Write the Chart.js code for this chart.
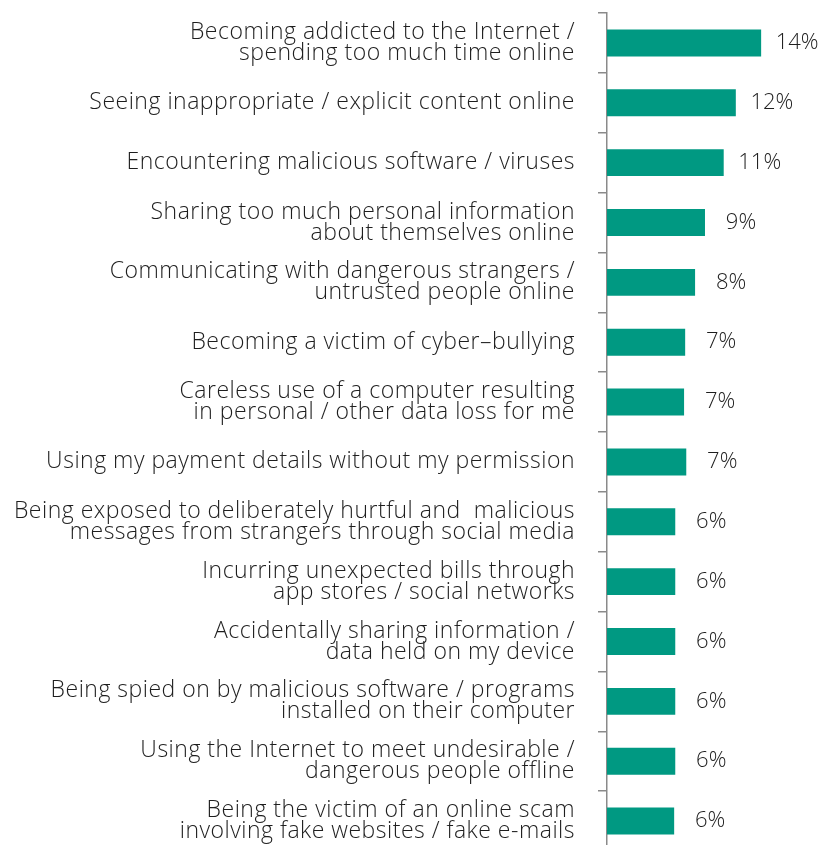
<!DOCTYPE html>
<html>
<head>
<meta charset="utf-8">
<script src="https://cdn.jsdelivr.net/npm/chart.js@4"></script>
<style>
  html, body { margin: 0; padding: 0; background: #ffffff; overflow: hidden; }
  #wrap { position: relative; width: 825px; height: 851px; }
</style>
</head>
<body>
<div id="wrap"><canvas id="chart"></canvas></div>
<script>
// Category labels (multi-line labels are arrays of lines)
const categories = [
  ["Becoming addicted to the Internet /", "spending too much time online"],
  "Seeing inappropriate / explicit content online",
  "Encountering malicious software / viruses",
  ["Sharing too much personal information", "about themselves online"],
  ["Communicating with dangerous strangers /", "untrusted people online"],
  "Becoming a victim of cyber\u2013bullying",
  ["Careless use of a computer resulting", "in personal / other data loss for me"],
  "Using my payment details without my permission",
  ["Being exposed to deliberately hurtful and  malicious", "messages from strangers through social media"],
  ["Incurring unexpected bills through", "app stores / social networks"],
  ["Accidentally sharing information /", "data held on my device"],
  ["Being spied on by malicious software / programs", "installed on their computer"],
  ["Using the Internet to meet undesirable /", "dangerous people offline"],
  ["Being the victim of an online scam", "involving fake websites / fake e-mails"]
];

// Share of respondents per concern, in percent
const shares = [14.0, 11.7, 10.6, 8.9, 8.0, 7.1, 7.0, 7.2, 6.2, 6.2, 6.2, 6.2, 6.2, 6.1];

const barColor = "#009982";
const axisColor = "#8a8a8a";
const textColor = "#1e1e1e";
const fontFamily = "'Open Sans', 'Noto Sans', sans-serif";

// Slightly wider tracking for the category labels
const tracking = {
  id: "tracking",
  beforeDraw(chart) {
    chart.ctx.letterSpacing = "0.5px";
  }
};

// Percentage labels to the right of each bar
const valueLabels = {
  id: "valueLabels",
  afterDatasetsDraw(chart) {
    const ctx = chart.ctx;
    const meta = chart.getDatasetMeta(0);
    ctx.save();
    ctx.letterSpacing = "0px";
    ctx.font = "300 22px " + fontFamily;
    ctx.fillStyle = textColor;
    ctx.textAlign = "center";
    ctx.textBaseline = "middle";
    meta.data.forEach((bar, i) => {
      const v = chart.data.datasets[0].data[i];
      ctx.fillText(Math.round(v) + "%", bar.x + 36, bar.y);
    });
    ctx.restore();
  }
};

new Chart(document.getElementById("chart"), {
  type: "bar",
  data: {
    labels: categories,
    datasets: [{
      data: shares,
      backgroundColor: barColor,
      borderWidth: 0,
      categoryPercentage: 1,
      barPercentage: 0.45
    }]
  },
  options: {
    indexAxis: "y",
    responsive: true,
    maintainAspectRatio: false,
    animation: false,
    layout: { padding: { top: 13, right: 0, bottom: 0, left: 0 } },
    plugins: {
      legend: { display: false },
      tooltip: { enabled: false }
    },
    scales: {
      x: {
        display: false,
        min: 0,
        max: 19.8
      },
      y: {
        afterFit(scale) {
          scale.width = 607;
          scale.paddingTop = 0;
          scale.paddingBottom = 0;
        },
        border: { display: true, color: axisColor, width: 1.5 },
        grid: {
          display: true,
          drawOnChartArea: false,
          drawTicks: true,
          tickLength: 9,
          color: axisColor,
          lineWidth: 1.5,
          offset: true
        },
        ticks: {
          padding: 23,
          color: textColor,
          font: { family: fontFamily, size: 23, weight: 300, lineHeight: 0.91 }
        }
      }
    }
  },
  plugins: [tracking, valueLabels]
});
</script>
</body>
</html>
